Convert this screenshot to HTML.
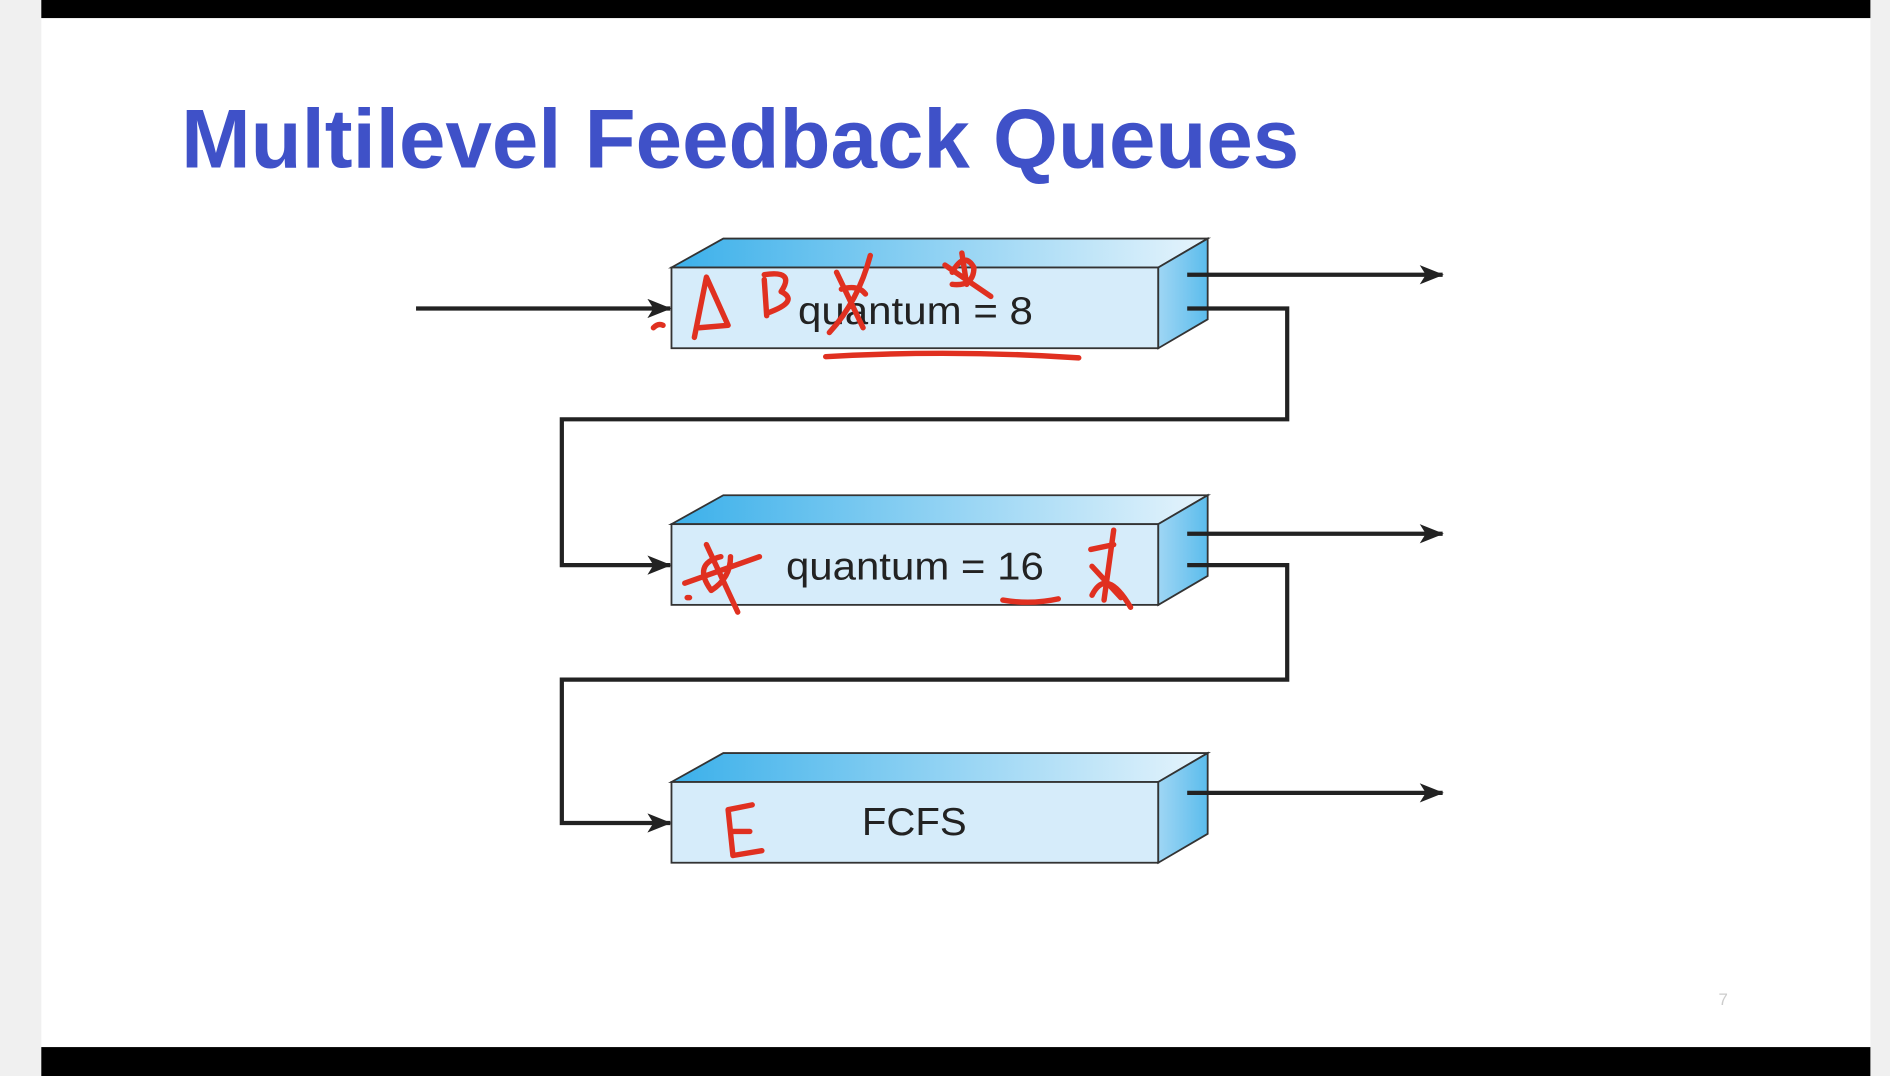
<!DOCTYPE html>
<html><head><meta charset="utf-8"><style>html,body{margin:0;padding:0;width:1890px;height:1076px;overflow:hidden;background:#f0f0f0}</style></head><body>
<svg width="1890" height="1076" viewBox="0 0 1568 893" xmlns="http://www.w3.org/2000/svg">
<defs>
<linearGradient id="top" x1="0" y1="0" x2="1" y2="0"><stop offset="0" stop-color="#3bb0ea"/><stop offset="1" stop-color="#e6f4fc"/></linearGradient>
<linearGradient id="side" x1="0" y1="0" x2="1" y2="0"><stop offset="0" stop-color="#9fd6f4"/><stop offset="1" stop-color="#5bbcec"/></linearGradient>
<marker id="ah2" markerWidth="20" markerHeight="16" refX="19" refY="8" orient="auto" markerUnits="userSpaceOnUse"><path d="M0,0 L20,8 L0,16 L5,8 z" fill="#222"/></marker>
</defs>
<rect x="0" y="0" width="1568" height="893" fill="#f0f0f0"/>
<rect x="34" y="15" width="1518" height="854" fill="#fff"/>
<rect x="34" y="0" width="1518" height="15" fill="#000"/>
<rect x="34" y="869" width="1518" height="24" fill="#000"/>
<text x="150" y="139" textLength="928" lengthAdjust="spacingAndGlyphs" font-family="Liberation Sans, sans-serif" font-weight="bold" font-size="69" fill="#3f51c8">Multilevel Feedback Queues</text>
<text x="1426" y="834" font-family="Liberation Sans, sans-serif" font-size="14" fill="#ccc">7</text>
<g id="b">
<polygon points="557,222 600,198 1002,198 961,222" fill="url(#top)" stroke="#333" stroke-width="1.5"/>
<rect x="557" y="222" width="404" height="67" fill="#d6ecfa" stroke="#333" stroke-width="1.5"/>
<polygon points="961,222 1002,198 1002,265 961,289" fill="url(#side)" stroke="#333" stroke-width="1.5"/>
</g>
<use href="#b" y="213"/>
<use href="#b" y="427"/>
<g font-family="Liberation Sans, sans-serif" font-size="32" fill="#222">
<text x="662" y="269" textLength="195" lengthAdjust="spacingAndGlyphs">quantum = 8</text>
<text x="652" y="481" textLength="214" lengthAdjust="spacingAndGlyphs">quantum = 16</text>
<text x="715" y="693" textLength="87" lengthAdjust="spacingAndGlyphs">FCFS</text>
</g>
<g stroke="#222" stroke-width="3.5" fill="none">
<path d="M345,256 H556" marker-end="url(#ah2)"/>
<path d="M985,228 H1197" marker-end="url(#ah2)"/>
<path d="M985,256 H1068 V348 H466 V469 H556" marker-end="url(#ah2)"/>
<path d="M985,443 H1197" marker-end="url(#ah2)"/>
<path d="M985,469 H1068 V564 H466 V683 H556" marker-end="url(#ah2)"/>
<path d="M985,658 H1197" marker-end="url(#ah2)"/>
</g>
<g stroke="#e03020" stroke-width="4.5" fill="none" stroke-linecap="round" stroke-linejoin="round">
<path d="M576,280 L586,230 L604,270 L580,272"/>
<path d="M634,232 L636,262 M634,228 Q660,224 648,242 Q664,250 636,260"/>
<path d="M694,226 L716,272 M722,212 Q712,250 688,276 M698,240 Q712,236 718,244"/>
<path d="M790,226 Q800,208 808,222 Q808,238 790,236 M784,220 L822,246 M798,210 L802,236"/>
<path d="M685,296 Q790,290 895,297"/>
<path d="M542,272 Q546,268 550,270"/>
<path d="M568,484 L630,462 M586,452 L612,508 M598,462 Q574,468 590,490 Q606,480 606,462 M570,496 L572,496"/>
<path d="M832,498 Q855,502 878,497"/>
<path d="M905,456 L924,452 M924,440 L916,498 M906,494 Q918,470 938,504 M906,470 L930,496"/>
<path d="M604,672 L608,710 M604,672 L624,668 M606,690 L622,690 M608,710 L632,706"/>
</g>
</svg>
</body></html>
